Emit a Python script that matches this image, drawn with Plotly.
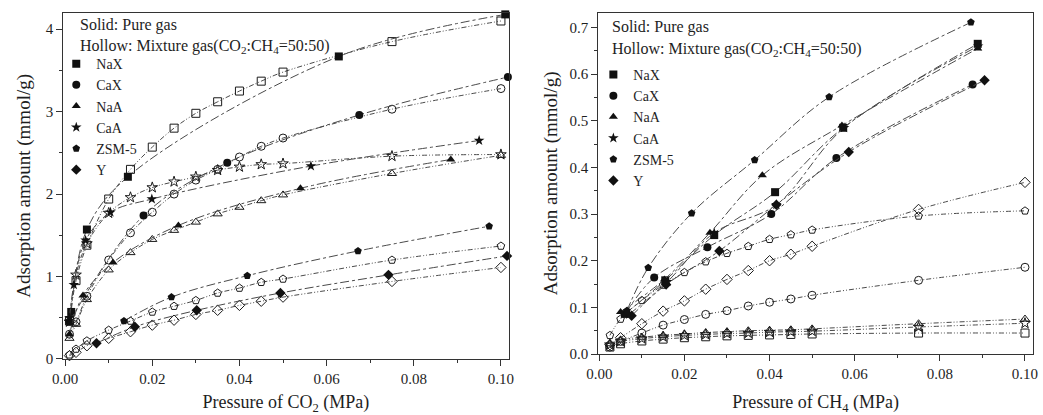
import plotly.graph_objects as go

# ---------------- data: left panel (CO2) ----------------
materials = ["NaX", "CaX", "NaA", "CaA", "ZSM-5", "Y"]
symbols = ["square", "circle", "triangle-up", "star", "pentagon", "diamond"]

co2_pure_x = {
    "NaX": [0.0014, 0.005, 0.0144, 0.0628, 0.101],
    "CaX": [0.001, 0.018, 0.0372, 0.0675, 0.1016],
    "NaA": [0.001, 0.0041, 0.011, 0.026, 0.054, 0.0885],
    "CaA": [0.001, 0.002, 0.0047, 0.0104, 0.0199, 0.0564, 0.095],
    "ZSM-5": [0.0135, 0.0244, 0.0418, 0.0672, 0.0973],
    "Y": [0.0072, 0.016, 0.0302, 0.0494, 0.0742, 0.1014],
}
co2_pure_y = {
    "NaX": [0.57, 1.57, 2.21, 3.67, 4.18],
    "CaX": [0.45, 1.74, 2.38, 2.96, 3.42],
    "NaA": [0.3, 0.77, 1.17, 1.62, 2.07, 2.42],
    "CaA": [0.5, 0.9, 1.44, 1.78, 1.94, 2.34, 2.65],
    "ZSM-5": [0.46, 0.75, 1.01, 1.31, 1.61],
    "Y": [0.19, 0.39, 0.59, 0.8, 1.02, 1.25],
}
co2_mix_x = [0.001, 0.0025, 0.005, 0.01, 0.015, 0.02, 0.025, 0.03, 0.035,
             0.04, 0.045, 0.05, 0.075, 0.1]
co2_mix_y = {
    "NaX": [0.46, 0.95, 1.38, 1.94, 2.3, 2.57, 2.8, 2.98, 3.12, 3.25, 3.37, 3.48, 3.85, 4.1],
    "CaX": [0.3, 0.45, 0.76, 1.2, 1.53, 1.78, 2.0, 2.17, 2.3, 2.45, 2.58, 2.68, 3.03, 3.28],
    "NaA": [0.25, 0.42, 0.72, 1.08, 1.29, 1.45, 1.56, 1.66, 1.76, 1.84, 1.92, 1.99, 2.25, 2.47],
    "CaA": [0.45, 1.02, 1.40, 1.77, 1.96, 2.08, 2.15, 2.21, 2.29, 2.33, 2.36, 2.37, 2.46, 2.48],
    "ZSM-5": [0.05, 0.12, 0.22, 0.35, 0.46, 0.57, 0.64, 0.71, 0.8, 0.86, 0.93, 0.97, 1.2, 1.37],
    "Y": [0.04, 0.08, 0.16, 0.25, 0.33, 0.41, 0.47, 0.54, 0.59, 0.65, 0.70, 0.75, 0.94, 1.11],
}

# ---------------- data: right panel (CH4) ----------------
ch4_pure_x = {
    "NaX": [0.006, 0.0155, 0.027, 0.0413, 0.0573, 0.0889],
    "CaX": [0.0062, 0.0129, 0.0254, 0.0404, 0.0557, 0.0877],
    "NaA": [0.005, 0.0153, 0.026, 0.0383, 0.057, 0.0889],
    "CaA": [0.007, 0.016, 0.027, 0.0416, 0.0575, 0.089],
    "ZSM-5": [0.0065, 0.0115, 0.0217, 0.0365, 0.054, 0.0873],
    "Y": [0.0076, 0.0157, 0.0282, 0.0416, 0.0586, 0.0905],
}
ch4_pure_y = {
    "NaX": [0.086, 0.158, 0.255, 0.347, 0.485, 0.665],
    "CaX": [0.088, 0.164, 0.229, 0.30, 0.42, 0.578],
    "NaA": [0.09, 0.16, 0.26, 0.383, 0.49, 0.655],
    "CaA": [0.085, 0.155, 0.26, 0.32, 0.485, 0.66],
    "ZSM-5": [0.093, 0.185, 0.302, 0.416, 0.551, 0.711],
    "Y": [0.082, 0.149, 0.221, 0.32, 0.433, 0.587],
}
ch4_mix_x = [0.0025, 0.005, 0.01, 0.015, 0.02, 0.025, 0.03, 0.035, 0.04,
             0.045, 0.05, 0.075, 0.1]
ch4_mix_y = {
    "Y": [0.02, 0.035, 0.065, 0.092, 0.114, 0.139, 0.16, 0.179, 0.2, 0.214, 0.231, 0.31, 0.368],
    "ZSM-5": [0.04, 0.075, 0.115, 0.148, 0.175, 0.198, 0.216, 0.231, 0.246, 0.256, 0.266, 0.296, 0.307],
    "CaX": [0.015, 0.027, 0.045, 0.062, 0.074, 0.085, 0.093, 0.103, 0.111, 0.118, 0.126, 0.158, 0.186],
    "NaA": [0.022, 0.03, 0.036, 0.04, 0.043, 0.046, 0.048, 0.05, 0.051, 0.052, 0.054, 0.065, 0.075],
    "CaA": [0.02, 0.027, 0.033, 0.037, 0.04, 0.042, 0.044, 0.045, 0.047, 0.048, 0.049, 0.058, 0.066],
    "NaX": [0.015, 0.022, 0.028, 0.032, 0.035, 0.037, 0.039, 0.04, 0.041, 0.042, 0.043, 0.045, 0.045],
}

x_ticks = [0.0, 0.02, 0.04, 0.06, 0.08, 0.10]
co2_y_ticks = [0, 1, 2, 3, 4]
ch4_y_ticks = [0.0, 0.1, 0.2, 0.3, 0.4, 0.5, 0.6, 0.7]

# ---------------- figure ----------------
FONT = "Liberation Serif"
LINE_COL = "#4a4a4a"
TXT = "#1e1e1e"
fig = go.Figure()

def add_panel(xa, ya, pure_x, pure_y, mix_x, mix_y, legend_name):
    for m, s in zip(materials, symbols):
        fig.add_trace(go.Scatter(
            x=mix_x, y=mix_y[m], mode="lines+markers", xaxis=xa, yaxis=ya,
            line=dict(color=LINE_COL, width=1, dash="5px,2px,1px,2px,1px,2px", shape="spline", smoothing=1.0),
            marker=dict(symbol=s + "-open", size=8, color="#1a1a1a", line=dict(width=1, color="#1a1a1a")),
            showlegend=False, cliponaxis=False))
    for m, s in zip(materials, symbols):
        fig.add_trace(go.Scatter(
            x=pure_x[m], y=pure_y[m], mode="lines+markers", xaxis=xa, yaxis=ya,
            line=dict(color=LINE_COL, width=1, dash="dashdot", shape="spline", smoothing=1.0),
            marker=dict(symbol=s, size=8, color="#111111", line=dict(width=0)),
            showlegend=False, cliponaxis=False))
    for m, s in zip(materials, symbols):
        fig.add_trace(go.Scatter(
            x=[None], y=[None], mode="markers", xaxis=xa, yaxis=ya, name=m,
            marker=dict(symbol=s, size=8, color="#111111"),
            legend=legend_name, showlegend=True))

add_panel("x", "y", co2_pure_x, co2_pure_y, co2_mix_x, co2_mix_y, "legend")
add_panel("x2", "y2", ch4_pure_x, ch4_pure_y, ch4_mix_x, ch4_mix_y, "legend2")

W, H = 1043, 415
def px(v):
    return v / W
def py(v):
    return 1 - v / H

axis_common = dict(showline=True, linecolor="#333", linewidth=1, mirror=True,
                   ticks="outside", ticklen=6, tickcolor="#333", showgrid=False,
                   zeroline=False, tickfont=dict(family=FONT, size=15, color=TXT))
minor_common = dict(ticks="outside", ticklen=3, tickcolor="#333")

fig.update_layout(
    width=W, height=H, margin=dict(l=0, r=0, t=0, b=0),
    paper_bgcolor="white", plot_bgcolor="white",
    font=dict(family=FONT, color=TXT),
    xaxis=dict(domain=[px(52), px(505)], range=[-0.00045, 0.1018], anchor="y",
               tickvals=x_ticks, tickformat=".2f",
               minor=dict(dtick=0.01, tick0=0, **minor_common),
               title=dict(text="Pressure of CO<sub>2</sub> (MPa)", font=dict(family=FONT, size=18), standoff=14),
               **axis_common),
    yaxis=dict(domain=[1 - 366 / H, py(13)], range=[0, 4.2], anchor="x",
               tickvals=co2_y_ticks,
               minor=dict(dtick=0.5, tick0=0, **minor_common),
               title=dict(text="Adsorption amount (mmol/g)", font=dict(family=FONT, size=19), standoff=9),
               **axis_common),
    xaxis2=dict(domain=[px(596), px(1038)], range=[-0.00023, 0.1019], anchor="y2",
                tickvals=x_ticks, tickformat=".2f",
                minor=dict(dtick=0.01, tick0=0, **minor_common),
                title=dict(text="Pressure of CH<sub>4</sub> (MPa)", font=dict(family=FONT, size=18), standoff=15),
                **axis_common),
    yaxis2=dict(domain=[1 - 361 / H, py(13)], range=[0, 0.7316], anchor="x2",
                tickvals=ch4_y_ticks, tickformat=".1f",
                minor=dict(dtick=0.05, tick0=0, **minor_common),
                title=dict(text="Adsorption amount (mmol/g)", font=dict(family=FONT, size=19), standoff=6),
                **axis_common),
    legend=dict(x=px(45), y=py(49), xanchor="left", yanchor="top",
                bgcolor="rgba(0,0,0,0)", font=dict(family=FONT, size=14, color=TXT),
                tracegroupgap=0, itemwidth=30),
    legend2=dict(x=px(591), y=py(60), xanchor="left", yanchor="top",
                 bgcolor="rgba(0,0,0,0)", font=dict(family=FONT, size=14, color=TXT),
                 tracegroupgap=0, itemwidth=30),
)

hdr = dict(showarrow=False, xref="paper", yref="paper", xanchor="left", yanchor="middle",
           font=dict(family=FONT, size=16, color=TXT))
fig.add_annotation(text="Solid: Pure gas", x=px(67), y=py(25), **hdr)
fig.add_annotation(text="Hollow: Mixture gas(CO<sub>2</sub>:CH<sub>4</sub>=50:50)", x=px(67), y=py(47), **hdr)
fig.add_annotation(text="Solid: Pure gas", x=px(608), y=py(28), **hdr)
fig.add_annotation(text="Hollow: Mixture gas(CO<sub>2</sub>:CH<sub>4</sub>=50:50)", x=px(608), y=py(50), **hdr)

fig.write_html("out.html")
